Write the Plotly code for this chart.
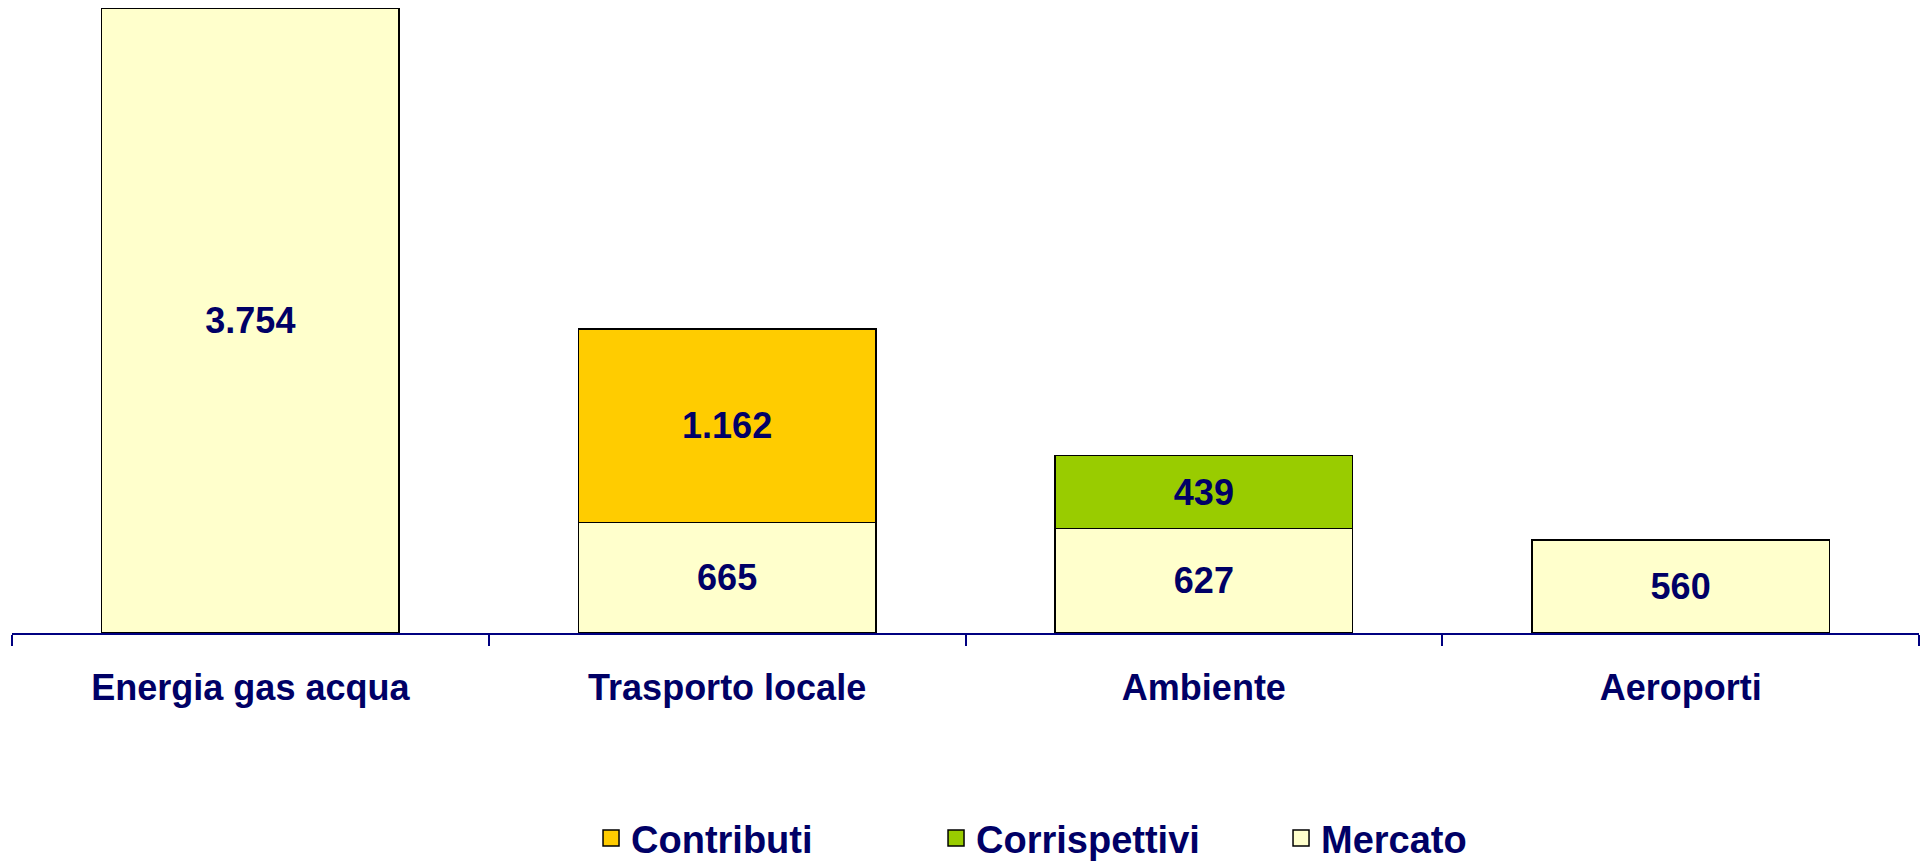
import plotly.graph_objects as go

categories = ["Energia gas acqua", "Trasporto locale", "Ambiente", "Aeroporti"]
mercato = [3754, 665, 627, 560]
contributi = [None, 1162, None, None]
corrispettivi = [None, None, 439, None]

NAVY = "#000066"
FONT = "Liberation Sans"
C_MERC = "#FFFFCC"
C_CONT = "#FFCC00"
C_CORR = "#99CC00"

fig = go.Figure()

def bar(name, vals, color):
    fig.add_trace(go.Bar(
        x=categories, y=vals, name=name, marker=dict(color=color, line=dict(color="#000000", width=1.5)),
        texttemplate="%{y:,.0f}", textposition="inside", insidetextanchor="middle",
        textangle=0, constraintext="none",
        textfont=dict(family=FONT, size=36, color=NAVY, weight="bold"),
        showlegend=False,
    ))

bar("Mercato", mercato, C_MERC)
bar("Contributi", contributi, C_CONT)
bar("Corrispettivi", corrispettivi, C_CORR)

# legend entries
for i, (name, color) in enumerate([("Contributi", C_CONT), ("Corrispettivi", C_CORR), ("Mercato", C_MERC)]):
    fig.add_trace(go.Scatter(
        x=[None], y=[None], mode="markers", name=name,
        marker=dict(symbol="square", size=16, color=color, line=dict(color="#000000", width=1.5)),
        legendrank=i + 1, showlegend=True,
    ))

fig.update_layout(
    width=1926, height=865,
    barmode="stack", bargap=0.376,
    separators=",.",
    plot_bgcolor="white", paper_bgcolor="white",
    margin=dict(l=12, r=7, t=5, b=232, autoexpand=False),
    font=dict(family=FONT, color=NAVY),
    legend=dict(
        orientation="h", x=0.575, xanchor="center", y=-0.327, yanchor="middle",
        font=dict(family=FONT, size=38, color=NAVY, weight="bold"),
        entrywidth=300, itemsizing="trace", traceorder="normal",
        tracegroupgap=0, borderwidth=0,
    ),
    xaxis=dict(
        showline=True, linecolor="#000080", linewidth=1.5,
        ticks="outside", tickson="boundaries", ticklen=11, tickcolor="#000080", tickwidth=1.5,
        tickfont=dict(family=FONT, size=36, color=NAVY, weight="bold"),
        ticklabelstandoff=22, showgrid=False,
    ),
    yaxis=dict(range=[0, 3776], visible=False, showgrid=False, zeroline=False),
)

fig.write_html("out.html", config={"displayModeBar": False},
               post_script="document.body.style.margin='0';")
